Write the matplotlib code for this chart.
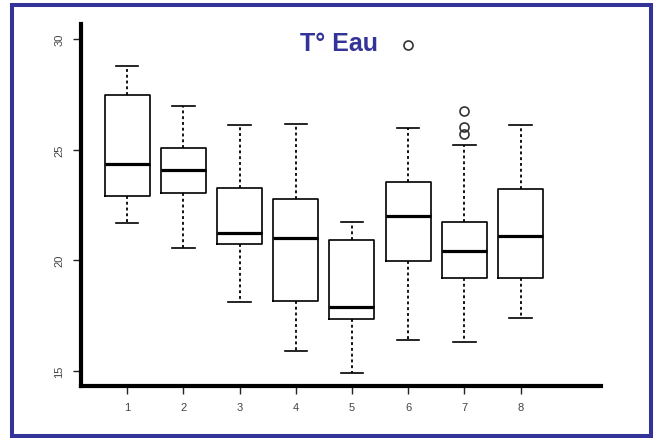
import matplotlib
matplotlib.use("Agg")
import matplotlib.pyplot as plt
from matplotlib.patches import Rectangle

# ---- data ----
stations = ["1", "2", "3", "4", "5", "6", "7", "8"]
whisker_low = [21.66, 20.55, 18.09, 15.89, 14.88, 16.40, 16.28, 17.38]
q1 = [22.91, 23.02, 20.74, 18.15, 17.32, 19.97, 19.20, 19.20]
median = [24.33, 24.09, 21.23, 20.99, 17.87, 22.01, 20.40, 21.09]
q3 = [27.48, 25.08, 23.26, 22.76, 20.92, 23.52, 21.72, 23.20]
whisker_high = [28.79, 26.96, 26.12, 26.17, 21.71, 25.97, 25.21, 26.11]
outliers = [[], [], [], [], [], [29.74], [26.76, 26.04, 25.70], []]
yticks = [15, 20, 25, 30]
title = "T° Eau"

W, H = 655, 439
fig = plt.figure(figsize=(W / 100, H / 100), dpi=100)
fig.patch.set_facecolor("white")

left_px, right_px, top_px, bottom_px = 81, 601, 25, 386.7
ax = fig.add_axes([left_px / W, 1 - bottom_px / H,
                   (right_px - left_px) / W, (bottom_px - top_px) / H])

stats = []
for i, lab in enumerate(stations):
    stats.append(dict(label=lab, whislo=whisker_low[i], q1=q1[i], med=median[i],
                      q3=q3[i], whishi=whisker_high[i], fliers=outliers[i]))

positions = list(range(1, len(stations) + 1))
ax.bxp(stats, positions=positions, widths=0.8, showfliers=True,
       boxprops=dict(color="black", linewidth=1.2),
       medianprops=dict(color="black", linewidth=2.3),
       whiskerprops=dict(color="black", linewidth=1.3, linestyle=(0, (1.6, 1.6))),
       capprops=dict(color="black", linewidth=1.2),
       flierprops=dict(marker="o", markersize=6.5, markerfacecolor="none",
                       markeredgecolor="#333333", markeredgewidth=1.2))

ax.set_xlim(0.182, 9.427)
ax.set_ylim(14.32, 30.68)

for s in ["top", "right"]:
    ax.spines[s].set_visible(False)
for s in ["left", "bottom"]:
    ax.spines[s].set_linewidth(3.0)
    ax.spines[s].set_color("black")

ax.set_yticks(yticks)
ax.set_yticklabels([str(v) for v in yticks], rotation=90, va="center")
ax.set_xticks(positions)
ax.set_xticklabels(stations)
ax.tick_params(axis="both", colors="#222222", labelcolor="#444444",
               labelsize=8, length=6, width=1.0, pad=6)
for lab in ax.get_xticklabels() + ax.get_yticklabels():
    lab.set_family(["Liberation Sans", "DejaVu Sans"])

fig.text(338.7 / W, 1 - 50.7 / H, title, ha="center", va="baseline",
         fontsize=18, fontweight="bold", color="#333399",
         family=["Liberation Sans", "DejaVu Sans"])

# blue frame around the figure
fig.patches.append(Rectangle((12 / W, 1 - 436.5 / H), (650.5 - 12) / W, (436.5 - 6) / H,
                             transform=fig.transFigure, fill=False,
                             edgecolor="#333399", linewidth=2.9))

fig.savefig("out.png", dpi=100, facecolor="white")
